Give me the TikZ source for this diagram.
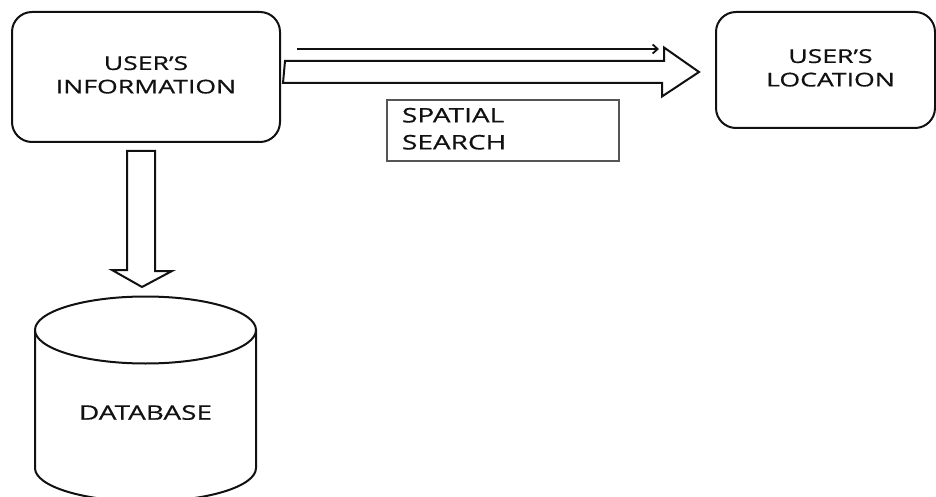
\documentclass[tikz,border=0pt]{standalone}
\usepackage{fontspec}
\setmainfont[FakeBold=0.5]{Open Sans}
\usetikzlibrary{arrows.meta, positioning, calc}
\definecolor{ink}{HTML}{111111}
\definecolor{rulegray}{HTML}{555555}

% box text is set a little wide
\newcommand{\widetext}[2][c]{\scalebox{1.4}[1]{\begin{tabular}{@{}#1@{}}#2\end{tabular}}}

\begin{document}
\begin{tikzpicture}[
  x=1pt, y=1pt,
  >={Straight Barb[length=5pt, width=9pt]},
  rbox/.style={
    draw=ink, line width=2pt, rounded corners=20pt, fill=white,
    font=\fontsize{19}{23.5}\selectfont, text=ink, inner sep=0pt
  },
  fat/.style={draw=ink, line width=2pt, fill=white, line join=miter},
  thin/.style={->, draw=ink, line width=1.8pt},
]

% page
\useasboundingbox (0,0) rectangle (936,-497);

% =============================================
% Boxes
% =============================================

\node[rbox, minimum width=268pt, minimum height=130pt] (info) at (146,-77)
  {\widetext{USER’S\\INFORMATION}};

\node[rbox, minimum width=219pt, minimum height=116pt] (loc) at (825.5,-70)
  {\hspace*{10pt}\widetext{USER’S\\LOCATION}};

\node[draw=rulegray, line width=1.3pt, minimum width=232pt, minimum height=61pt,
      inner sep=0pt, text width=232pt, font=\fontsize{20}{27}\selectfont, text=ink]
  (search) at (503,-130.5)
  {\hspace*{15pt}\widetext[l]{SPATIAL\\SEARCH}};

% =============================================
% Arrows
% =============================================

% Information -> Location: thin arrow on top
\draw[thin] ([xshift=16pt, yshift=28pt]info.east) -- ([xshift=-56pt, yshift=21pt]loc.west);

% Information -> Location: block arrow
\draw[fat] ([xshift=4pt, yshift=16pt]info.east) -- ++(379,0) -- ++(0,13.5)
  -- ([xshift=-16pt, yshift=-2pt]loc.west) -- ++(-37,-24.5) -- ++(0,13.5)
  -- ++(-379,0) -- cycle;

% =============================================
% Database
% =============================================
\coordinate (dbtop) at (145.5,-296.5);

\draw[fat] (35,-330) -- (35,-468)
  arc[start angle=180, end angle=360, x radius=110.5, y radius=33.5] -- (256,-330);
\draw[fat] (145.5,-330) ellipse[x radius=110.5, y radius=33.5];

\node[font=\fontsize{20}{23.5}\selectfont, text=ink] (db) at (145.5,-415)
  {\widetext{DATABASE}};

% Information -> Database: block arrow
\draw[fat] ([xshift=-19pt, yshift=-8pt]info.south) -- ++(28,0) -- ++(0,-120)
  -- ++(17,0) -- ([xshift=-3.5pt, yshift=9.5pt]dbtop) -- ++(-30,17)
  -- ++(15,0) -- cycle;

\end{tikzpicture}
\end{document}
